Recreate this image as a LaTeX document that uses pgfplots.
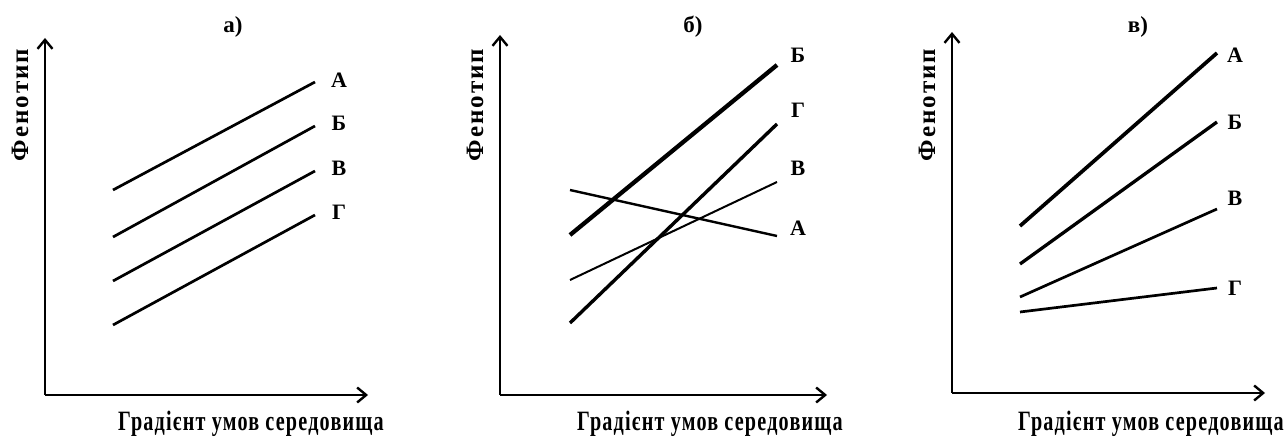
\documentclass[border=0pt]{standalone}
\usepackage{fontspec}
\setmainfont{Liberation Serif}
\usepackage{graphicx}
\usepackage{pgfplots}
\pgfplotsset{compat=1.18}
\usetikzlibrary{arrows.meta}
\newcommand{\xlab}{\scalebox{0.72}[1]{Градієнт умов середовища}}
\pgfplotsset{
  panel/.style={
    scale only axis, axis lines=left, xtick=\empty, ytick=\empty, clip=false,
    xmin=0, ymin=0, anchor=south west,
    axis line style={line width=2.6pt, -{Straight Barb[length=9pt,width=15pt,line width=2.4pt]}},
    xlabel style={anchor=center, font=\fontsize{28}{30}\selectfont\bfseries\addfontfeatures{LetterSpace=6}},
    ylabel style={anchor=center, rotate=0, font=\fontsize{25}{28}\selectfont\bfseries\addfontfeatures{LetterSpace=8}},
    xlabel={\xlab},
    ylabel={Фенотип},
  },
}
\tikzset{lab/.style={font=\fontsize{22}{24}\selectfont\bfseries, anchor=center},
         ttl/.style={font=\fontsize{23}{25}\selectfont\bfseries, anchor=center}}
\begin{document}
\begin{tikzpicture}[x=1pt,y=1pt]
\path[use as bounding box] (0,0) rectangle (1286,439);
% panel a
\begin{axis}[panel, at={(45pt,44pt)}, width=323pt, height=357pt, xmax=323, ymax=357,
  xlabel style={at={(axis cs:206,-29)}}, ylabel style={at={(axis cs:-25,290)}}]
\addplot[black, no marks, line width=2.7pt] coordinates {(68,205) (270,313)};
\addplot[black, no marks, line width=2.7pt] coordinates {(68,158) (270,269)};
\addplot[black, no marks, line width=2.7pt] coordinates {(68,114) (270,224)};
\addplot[black, no marks, line width=2.7pt] coordinates {(68,70) (270,180)};
\node[lab] at (axis cs:294,315) {А};
\node[lab] at (axis cs:294,272) {Б};
\node[lab] at (axis cs:294,227) {В};
\node[lab] at (axis cs:294,183) {Г};
\node[ttl] at (axis cs:188,368) {а)};
\end{axis}
% panel b
\begin{axis}[panel, at={(500pt,44pt)}, width=327pt, height=360pt, xmax=327, ymax=360,
  xlabel style={at={(axis cs:210,-29)}}, ylabel style={at={(axis cs:-25,290)}}]
\addplot[black, no marks, line width=4.3pt] coordinates {(70,160) (277,330)};
\addplot[black, no marks, line width=3.4pt] coordinates {(70,72) (277,271)};
\addplot[black, no marks, line width=2.0pt] coordinates {(70,115) (277,213)};
\addplot[black, no marks, line width=2.4pt] coordinates {(70,205) (277,159)};
\node[lab] at (axis cs:298,340) {Б};
\node[lab] at (axis cs:298,285) {Г};
\node[lab] at (axis cs:298,227) {В};
\node[lab] at (axis cs:298,167) {А};
\node[ttl] at (axis cs:193,368) {б)};
\end{axis}
% panel c
\begin{axis}[panel, at={(952pt,46pt)}, width=313pt, height=361pt, xmax=313, ymax=361,
  xlabel style={at={(axis cs:199,-31)}}, ylabel style={at={(axis cs:-25,288)}}]
\addplot[black, no marks, line width=3.7pt] coordinates {(68,167) (265,340)};
\addplot[black, no marks, line width=3.3pt] coordinates {(68,129) (265,271)};
\addplot[black, no marks, line width=2.7pt] coordinates {(68,96) (265,184)};
\addplot[black, no marks, line width=2.7pt] coordinates {(68,81) (265,105)};
\node[lab] at (axis cs:283,338) {А};
\node[lab] at (axis cs:283,271) {Б};
\node[lab] at (axis cs:283,195) {В};
\node[lab] at (axis cs:283,105) {Г};
\node[ttl] at (axis cs:186,366) {в)};
\end{axis}
\end{tikzpicture}
\end{document}
